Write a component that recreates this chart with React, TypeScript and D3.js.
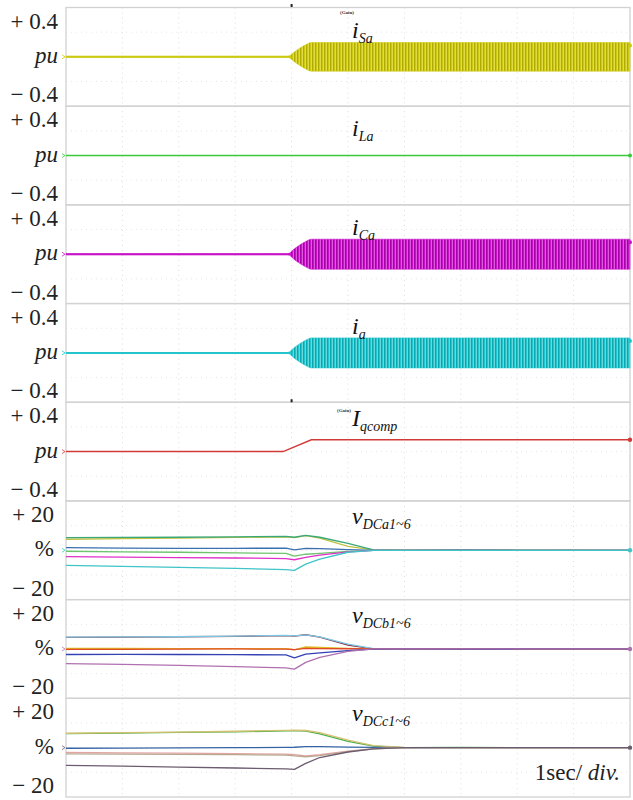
import React from 'react';
import * as d3 from 'd3';

const W = 633, H = 800;
const margin = { top: 7.5, right: 3, bottom: 3, left: 66 };
const panelCount = 8;
const panelH = (H - margin.top - margin.bottom) / panelCount;

// time base: 1 sec/div, 10 divisions
const timeTicks = [0, 1, 2, 3, 4, 5, 6, 7, 8, 9, 10];

// ac current envelopes (pu)
const envTime = [0, 3.93, 4.05, 4.15, 4.25, 4.35, 10];
const isaAmp = [0.004, 0.004, 0.05, 0.09, 0.122, 0.145, 0.145];
const icaAmp = [0.004, 0.004, 0.055, 0.095, 0.128, 0.152, 0.152];
const iaAmp = [0.004, 0.004, 0.055, 0.095, 0.128, 0.152, 0.152];
const ilaTime = [0, 10];
const ilaValues = [0, 0];

// reactive current command (pu)
const iqTime = [0, 3.85, 4.35, 10];
const iqValues = [0, 0, 0.12, 0.12];

// dc-link voltages (% deviation)
const dcTime = [0, 1, 2, 3, 3.9, 4.05, 4.25, 4.5, 5.0, 5.45, 6, 7, 8, 9, 10];
const vdcA = [
  [5.6, 5.9, 6.2, 6.5, 6.8, 6.4, 7.4, 6.2, 2.0, 0.2, 0.1, 0.2, 0, 0.1, 0],
  [6.4, 6.5, 6.6, 6.8, 7.0, 6.6, 7.5, 6.6, 3.5, 0.2, 0, 0.1, 0, 0, 0],
  [1.3, 1.1, 1.0, 1.0, 1.1, 0.2, 1.0, 0.8, 0.3, 0, 0, 0.1, 0, 0, 0],
  [-0.5, -0.8, -1.0, -1.3, -1.6, -3.0, -2.0, -1.6, -0.6, 0, 0, 0, 0.1, 0, 0],
  [-3.2, -3.5, -3.7, -3.9, -4.2, -4.8, -3.6, -2.5, -0.8, 0, 0, 0, 0, 0, 0],
  [-7.6, -8.2, -8.7, -9.2, -9.8, -10.2, -7.0, -4.5, -1.0, 0, 0, 0, 0, 0, 0],
];
const vdcAColors = ['#c2c040', '#3aa878', '#3a6fb0', '#6cc46c', '#e030c8', '#40c4c8'];

const vdcB = [
  [5.9, 6.0, 6.2, 6.4, 6.8, 6.5, 7.2, 6.0, 2.0, 0.1, 0, 0.1, 0, 0, 0],
  [6.0, 6.1, 6.2, 6.5, 6.9, 6.6, 7.1, 6.1, 2.4, 0.2, 0.1, 0, 0, 0, 0],
  [0.3, 0.3, 0.2, 0.2, 0.2, -0.4, 1.0, 0.8, 0.3, 0, 0, 0, 0, 0, 0],
  [-0.2, -0.2, -0.1, 0, -0.1, -0.3, 0.3, 0.2, 0.1, 0, 0, 0, 0, 0, 0],
  [-2.8, -2.7, -2.8, -2.9, -3.0, -4.5, -2.6, -2.0, -0.8, -0.1, 0, -0.1, 0, 0, 0],
  [-7.4, -7.8, -8.3, -8.9, -9.6, -10.2, -6.8, -4.3, -1.2, 0, 0, 0, 0, 0, 0],
];
const vdcBColors = ['#8c2c40', '#7cc8e4', '#e0b820', '#e04a28', '#3440b4', '#b070b0'];

const vdcC = [
  [7.1, 7.4, 7.7, 8.0, 8.5, 8.6, 8.4, 7.0, 3.2, 0.8, 0, 0.1, 0, 0, 0],
  [7.3, 7.6, 7.9, 8.3, 8.8, 8.9, 8.7, 7.6, 3.8, 1.0, 0.1, 0, 0, 0, 0],
  [-0.3, -0.2, -0.1, 0, 0.1, 0.2, 0.5, 0.5, 0.3, 0.1, 0, 0, 0, 0, 0],
  [-2.4, -2.6, -2.8, -3.0, -3.3, -3.6, -4.2, -3.6, -1.8, -0.5, 0, 0, 0, 0, 0],
  [-3.2, -3.3, -3.4, -3.5, -3.8, -4.2, -4.6, -4.0, -2.0, -0.6, 0, 0, 0, 0, 0],
  [-9.0, -9.4, -9.9, -10.3, -10.8, -11.0, -8.0, -5.0, -2.2, -0.6, 0, 0, 0, 0, 0],
];
const vdcCColors = ['#4cb04c', '#d4c070', '#3464a4', '#e4a4a4', '#b8a890', '#6c5c70'];

const pf = "'Liberation Serif', 'Times New Roman', 'DejaVu Serif', serif";

function panelTop(i: number) {
  return margin.top + i * panelH;
}

const x = d3.scaleLinear().domain([0, 10]).range([margin.left, W - margin.right]);

function yScale(i: number, half: number) {
  const top = panelTop(i);
  return d3.scaleLinear().domain([-half, half]).range([top + panelH, top]);
}

function Grid({ i }: { i: number }) {
  const top = panelTop(i);
  const hs = [0.25, 0.5, 0.75].map(f => top + f * panelH);
  return (
    <g>
      {timeTicks.slice(1, -1).map(t => (
        <line key={'v' + t} x1={x(t)} x2={x(t)} y1={top} y2={top + panelH}
          stroke="#dcdcdc" strokeWidth={1} strokeDasharray="1,4" />
      ))}
      {hs.map((h, k) => (
        <line key={'h' + k} x1={x(0)} x2={x(10)} y1={h} y2={h}
          stroke="#e6e6e6" strokeWidth={1} strokeDasharray="1,4" />
      ))}
      <rect x={x(0)} y={top} width={x(10) - x(0)} height={panelH}
        fill="none" stroke="#d2d2d2" strokeWidth={1.3} />
    </g>
  );
}

function Arrow({ y, color }: { y: number; color: string }) {
  return (
    <path d={`M${x(0) - 4},${y - 2}L${x(0) - 1},${y}L${x(0) - 4},${y + 2}`}
      fill="none" stroke={color} strokeWidth={0.8} />
  );
}

function AcPanel({ i, amp, color, dark, light }:
  { i: number; amp: number[]; color: string; dark: string; light: string }) {
  const y = yScale(i, 0.5);
  const pts = envTime.map((t, k) => ({ t, a: amp[k] }));
  const area = d3.area<{ t: number; a: number }>()
    .x(d => x(d.t)).y0(d => y(-d.a)).y1(d => y(d.a)).curve(d3.curveMonotoneX);
  const id = 'stripe' + i;
  return (
    <g>
      <defs>
        <pattern id={id} width={3} height={4} patternUnits="userSpaceOnUse">
          <rect width={3} height={4} fill={color} />
          <rect width={1} height={4} fill={dark} />
          <rect x={2} width={1} height={4} fill={light} />
        </pattern>
      </defs>
      <path d={area(pts) || ''} fill={`url(#${id})`} stroke={color} strokeWidth={0.6} />
      <line x1={x(0)} x2={x(4)} y1={y(0)} y2={y(0)} stroke={color} strokeWidth={2} />
      <circle cx={x(10)} cy={y(amp[amp.length - 1] * 0.8)} r={2} fill={color} />
      <Arrow y={y(0)} color={color} />
    </g>
  );
}

function LineSet({ i, half, times, series, colors, width }:
  { i: number; half: number; times: number[]; series: number[][]; colors: string[]; width: number }) {
  const y = yScale(i, half);
  const line = d3.line<number>().x((_, k) => x(times[k])).y(d => y(d));
  return (
    <g>
      {series.map((s, k) => (
        <path key={k} d={line(s) || ''} fill="none" stroke={colors[k]} strokeWidth={width} strokeLinejoin="round" />
      ))}
      <circle cx={x(10)} cy={y(series[series.length - 1][times.length - 1])} r={2.2} fill={colors[colors.length - 1]} />
      <Arrow y={y(0)} color={colors[colors.length - 1]} />
    </g>
  );
}

function YLabels({ i, top, mid, bottom, right, italicMid }:
  { i: number; top: string; mid: string; bottom: string; right: number; italicMid: boolean }) {
  const t = panelTop(i);
  return (
    <g style={{ fontFamily: pf }} fontSize={23} fill="#222">
      <text x={right} y={t + 21} textAnchor="end">{top}</text>
      <text x={right} y={t + panelH / 2 + 6} textAnchor="end" fontStyle={italicMid ? 'italic' : 'normal'}>{mid}</text>
      <text x={right} y={t + panelH - 4} textAnchor="end">{bottom}</text>
    </g>
  );
}

function SigLabel({ i, main, sub, dy, mainSize }:
  { i: number; main: string; sub: string; dy: number; mainSize: number }) {
  return (
    <text x={352} y={panelTop(i) + dy} style={{ fontFamily: pf }} fontStyle="italic" fill="#111">
      <tspan fontSize={mainSize}>{main}</tspan>
      <tspan fontSize={14} dy={5}>{sub}</tspan>
    </text>
  );
}

export default function App() {
  const acPanels = [
    { i: 0, amp: isaAmp, color: '#cdc812', dark: '#b2ac00', light: '#e0dc48' },
    { i: 2, amp: icaAmp, color: '#c814c8', dark: '#a800a8', light: '#dc58dc' },
    { i: 3, amp: iaAmp, color: '#24c4cc', dark: '#08a8b0', light: '#68d8dc' },
  ];
  const yLa = yScale(1, 0.5);
  const yIq = yScale(4, 0.5);
  const iqLine = d3.line<number>().x((_, k) => x(iqTime[k])).y(d => yIq(d));
  const laLine = d3.line<number>().x((_, k) => x(ilaTime[k])).y(d => yLa(d));

  return (
    <svg width={W} height={H} viewBox={`0 0 ${W} ${H}`}
      style={{ position: 'absolute', left: 0, top: 0, background: '#fff' }}>
      <rect width={W} height={H} fill="#fff" />
      {d3.range(panelCount).map(i => <Grid key={i} i={i} />)}

      {acPanels.map(p => (
        <AcPanel key={p.i} i={p.i} amp={p.amp} color={p.color} dark={p.dark} light={p.light} />
      ))}

      <path d={laLine(ilaValues) || ''} fill="none" stroke="#3cc83c" strokeWidth={1.6} />
      <circle cx={x(10)} cy={yLa(0)} r={2} fill="#3cc83c" />
      <Arrow y={yLa(0)} color="#3cc83c" />

      <path d={iqLine(iqValues) || ''} fill="none" stroke="#d23a3a" strokeWidth={1.5} />
      <circle cx={x(10)} cy={yIq(iqValues[iqValues.length - 1])} r={2.2} fill="#d23a3a" />
      <Arrow y={yIq(0)} color="#d23a3a" />

      <LineSet i={5} half={25} times={dcTime} series={vdcA} colors={vdcAColors} width={1.3} />
      <LineSet i={6} half={25} times={dcTime} series={vdcB} colors={vdcBColors} width={1.3} />
      <LineSet i={7} half={25} times={dcTime} series={vdcC} colors={vdcCColors} width={1.3} />

      {[0, 1, 2, 3, 4].map(i => (
        <YLabels key={i} i={i} top="+ 0.4" mid="pu" bottom="− 0.4" right={58} italicMid={true} />
      ))}
      {[5, 6, 7].map(i => (
        <YLabels key={i} i={i} top="+ 20" mid="%" bottom="− 20" right={54} italicMid={false} />
      ))}

      <SigLabel i={0} main="i" sub="Sa" dy={30} mainSize={24} />
      <SigLabel i={1} main="i" sub="La" dy={30} mainSize={24} />
      <SigLabel i={2} main="i" sub="Ca" dy={30} mainSize={24} />
      <SigLabel i={3} main="i" sub="a" dy={30} mainSize={24} />
      <SigLabel i={4} main="I" sub="qcomp" dy={24} mainSize={24} />
      <SigLabel i={5} main="v" sub="DCa1~6" dy={23} mainSize={24} />
      <SigLabel i={6} main="v" sub="DCb1~6" dy={23} mainSize={24} />
      <SigLabel i={7} main="v" sub="DCc1~6" dy={23} mainSize={24} />

      <text x={340} y={14} style={{ fontFamily: pf }} fontSize={5} fontWeight="bold" fill="#333">(Gain)</text>
      <text x={337} y={412} style={{ fontFamily: pf }} fontSize={5} fontWeight="bold" fill="#333">(Gain)</text>
      <rect x={x(4) - 1} y={4} width={2} height={3} fill="#222" />
      <rect x={x(4) - 1} y={panelTop(4) - 3} width={2} height={3} fill="#222" />

      <text x={620} y={780} textAnchor="end" style={{ fontFamily: pf }} fontSize={23} fill="#222">
        1sec/ <tspan fontStyle="italic">div.</tspan>
      </text>
    </svg>
  );
}
